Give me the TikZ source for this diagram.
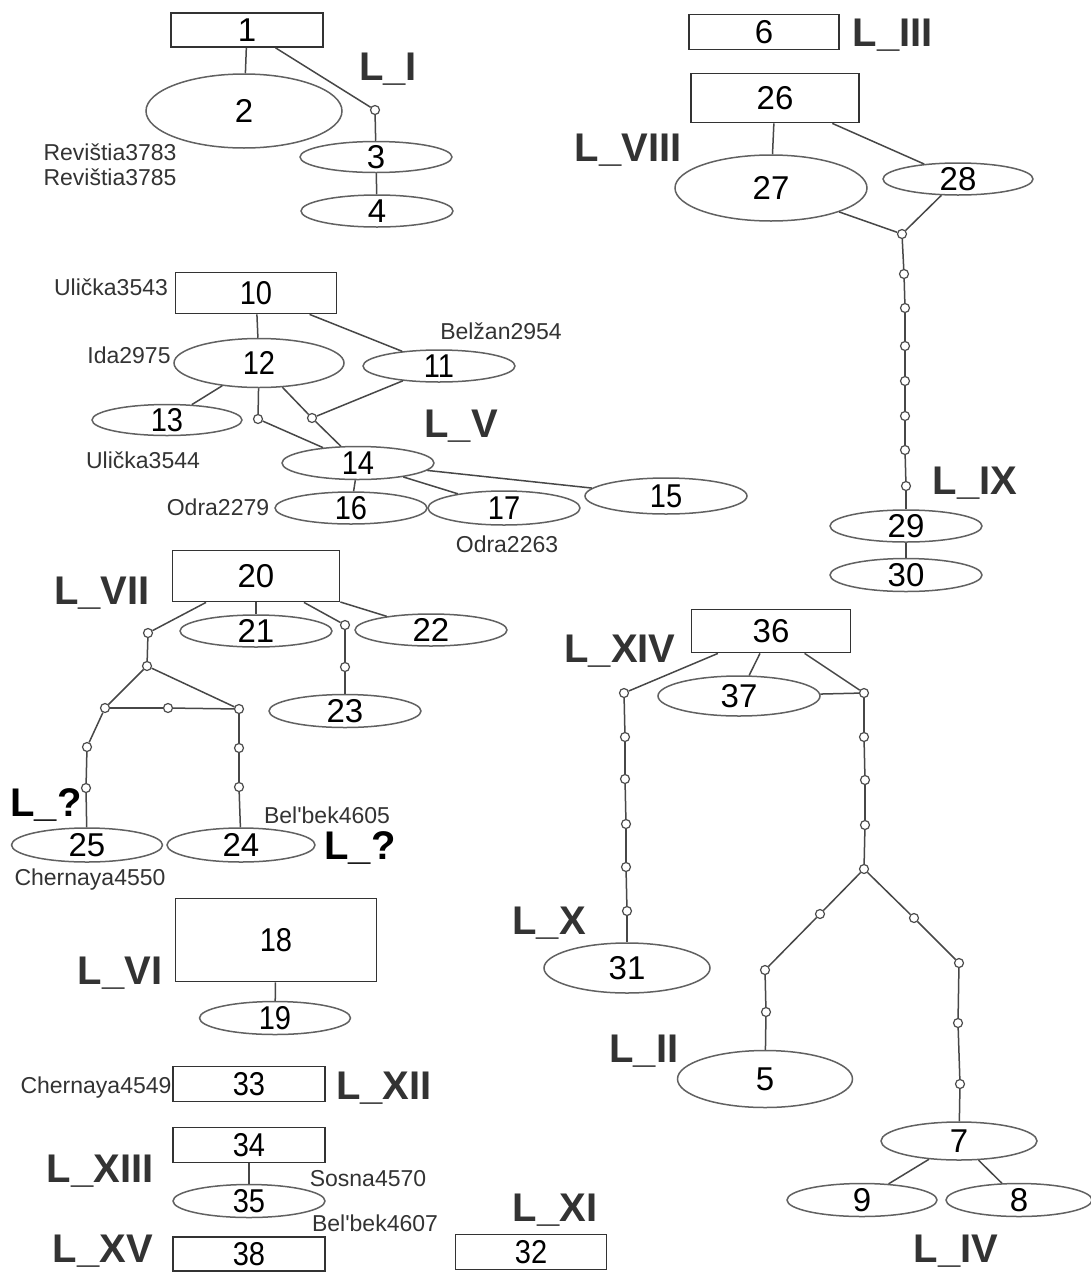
\documentclass[tikz,border=0pt]{standalone}
\usepackage{fontspec}
\setmainfont{Liberation Sans}
\usetikzlibrary{shapes.geometric}
\newcommand\nmb[1]{\smash{\raisebox{-0.358em}{#1}}}
\newcommand\nmbc[1]{\smash{\raisebox{-0.358em}{\scalebox{0.88}[1]{#1}}}}
\tikzset{
  bx/.style 2 args={draw=black!80, line width=1.8pt, rectangle, inner sep=0pt,
    minimum width=#1pt, minimum height=#2pt, font=\fontsize{33}{33}\selectfont},
  el/.style 2 args={draw=black!62, line width=1.5pt, ellipse, inner sep=0pt,
    minimum width=#1pt, minimum height=#2pt, font=\fontsize{33}{33}\selectfont},
  dt/.style={circle, draw=black!70, fill=white, line width=1.2pt, minimum size=9pt, inner sep=0pt},
  ln/.style={draw=black!72, line width=1.5pt},
  lb/.style={anchor=base, text=black!80, font=\fontsize{40}{40}\selectfont\bfseries, inner sep=0pt},
  lq/.style={lb, text=black},
  sm/.style={anchor=base, text=black!80, font=\fontsize{23}{23}\selectfont, inner sep=0pt},
}
\begin{document}
\begin{tikzpicture}[x=1pt,y=-1pt]
\fill[white] (0,0) rectangle (1091,1272);
\useasboundingbox (0,0) rectangle (1091,1272);

% ---------- L_I ----------
\node[bx={152}{34}] (n1) at (247,30) {\nmb{1}};
\node[el={196}{74}] (n2) at (244,111) {\nmb{2}};
\node[dt] (d1) at (375,110) {};
\node[el={152}{31}] (n3) at (376,157) {\nmb{3}};
\node[el={152}{32}] (n4) at (377,211) {\nmb{4}};
\node[lb] (lI) at (388,80) {L\_I};
\node[sm] (s1) at (110,160) {Revištia3783};
\node[sm] (s2) at (110,185) {Revištia3785};

% ---------- L_III ----------
\node[bx={150}{35}] (n6) at (764,32) {\nmb{6}};
\node[lb] (lIII) at (893,46) {L\_III};

% ---------- L_VIII / L_IX ----------
\node[bx={168}{49}] (n26) at (775,98) {\nmb{26}};
\node[el={192}{66}] (n27) at (771,188) {\nmb{27}};
\node[el={150}{32}] (n28) at (958,179) {\nmb{28}};
\node[dt] (j0) at (902,234) {};
\node[dt] (j1) at (904,274) {};
\node[dt] (j2) at (905,308) {};
\node[dt] (j3) at (905,346) {};
\node[dt] (j4) at (905,381) {};
\node[dt] (j5) at (905,416) {};
\node[dt] (j6) at (905,450) {};
\node[dt] (j7) at (906,486) {};
\node[el={152}{32}] (n29) at (906,526) {\nmb{29}};
\node[el={152}{33}] (n30) at (906,575) {\nmb{30}};
\node[lb] (lVIII) at (628,161) {L\_VIII};
\node[lb] (lIX) at (975,494) {L\_IX};

% ---------- L_V ----------
\node[bx={161}{41}] (n10) at (256,293) {\nmbc{10}};
\node[el={170}{49}] (n12) at (259,363) {\nmbc{12}};
\node[el={152}{32}] (n11) at (439,366) {\nmbc{11}};
\node[el={150}{31}] (n13) at (167,420) {\nmbc{13}};
\node[dt] (e1) at (258,419) {};
\node[dt] (e2) at (312,418) {};
\node[el={152}{33}] (n14) at (358,463) {\nmbc{14}};
\node[el={152}{32}] (n16) at (351,508) {\nmbc{16}};
\node[el={152}{34}] (n17) at (504,508) {\nmbc{17}};
\node[el={162}{36}] (n15) at (666,496) {\nmbc{15}};
\node[lb] (lV) at (461,437) {L\_V};
\node[sm] (s3) at (111,295) {Ulička3543};
\node[sm] (s4) at (129,363) {Ida2975};
\node[sm] (s5) at (501,339) {Belžan2954};
\node[sm] (s6) at (143,468) {Ulička3544};
\node[sm] (s7) at (218,515) {Odra2279};
\node[sm] (s8) at (507,552) {Odra2263};

% ---------- L_VII ----------
\node[bx={167}{51}] (n20) at (256,576) {\nmb{20}};
\node[el={152}{32}] (n21) at (256,631) {\nmb{21}};
\node[el={152}{32}] (n22) at (431,630) {\nmb{22}};
\node[el={152}{33}] (n23) at (345,711) {\nmb{23}};
\node[el={151}{34}] (n25) at (87,845) {\nmb{25}};
\node[el={148}{34}] (n24) at (241,845) {\nmb{24}};
\node[dt] (k1) at (148,633) {};
\node[dt] (k2) at (147,666) {};
\node[dt] (k3) at (105,708) {};
\node[dt] (k4) at (168,708) {};
\node[dt] (k5) at (239,709) {};
\node[dt] (k6) at (87,747) {};
\node[dt] (k7) at (86,788) {};
\node[dt] (k8) at (239,748) {};
\node[dt] (k9) at (239,787) {};
\node[dt] (m1) at (345,625) {};
\node[dt] (m2) at (345,667) {};
\node[lb] (lVII) at (102,604) {L\_VII};
\node[lq] (lq1) at (46,816) {L\_?};
\node[lq] (lq2) at (360,859) {L\_?};
\node[sm] (s9) at (327,823) {Bel\textquotesingle bek4605};
\node[sm] (s10) at (90,885) {Chernaya4550};

% ---------- L_VI, L_XII, L_XIII, L_XV, L_XI ----------
\node[bx={201}{83}] (n18) at (276,940) {\nmbc{18}};
\node[el={151}{33}] (n19) at (275,1018) {\nmbc{19}};
\node[lb] (lVI) at (120,984) {L\_VI};
\node[bx={152}{35}] (n33) at (249,1084) {\nmbc{33}};
\node[sm] (s11) at (96,1093) {Chernaya4549};
\node[lb] (lXII) at (384,1099) {L\_XII};
\node[bx={152}{35}] (n34) at (249,1145) {\nmbc{34}};
\node[el={152}{33}] (n35) at (249,1201) {\nmbc{35}};
\node[lb] (lXIII) at (100,1182) {L\_XIII};
\node[sm] (s12) at (368,1186) {Sosna4570};
\node[sm] (s13) at (375,1231) {Bel\textquotesingle bek4607};
\node[bx={152}{34}] (n38) at (249,1254) {\nmbc{38}};
\node[lb] (lXV) at (103,1262) {L\_XV};
\node[bx={151}{35}] (n32) at (531,1252) {\nmbc{32}};
\node[lb] (lXI) at (555,1221) {L\_XI};

% ---------- L_XIV, L_X, L_II, L_IV ----------
\node[bx={159}{43}] (n36) at (771,631) {\nmb{36}};
\node[el={162}{40}] (n37) at (739,696) {\nmb{37}};
\node[dt] (p1) at (624,693) {};
\node[dt] (p2) at (625,737) {};
\node[dt] (p3) at (625,779) {};
\node[dt] (p4) at (626,824) {};
\node[dt] (p5) at (626,867) {};
\node[dt] (p6) at (627,911) {};
\node[el={166}{50}] (n31) at (627,968) {\nmb{31}};
\node[dt] (q1) at (864,693) {};
\node[dt] (q2) at (864,737) {};
\node[dt] (q3) at (865,780) {};
\node[dt] (q4) at (865,825) {};
\node[dt] (q5) at (864,869) {};
\node[dt] (r1) at (820,914) {};
\node[dt] (r2) at (765,970) {};
\node[dt] (r3) at (766,1012) {};
\node[el={175}{57}] (n5) at (765,1079) {\nmb{5}};
\node[dt] (t1) at (914,918) {};
\node[dt] (t2) at (959,963) {};
\node[dt] (t3) at (958,1023) {};
\node[dt] (t4) at (960,1084) {};
\node[el={156}{38}] (n7) at (959,1141) {\nmb{7}};
\node[el={150}{33}] (n9) at (862,1200) {\nmb{9}};
\node[el={146}{33}] (n8) at (1019,1200) {\nmb{8}};
\node[lb] (lXIV) at (620,662) {L\_XIV};
\node[lb] (lX) at (549,934) {L\_X};
\node[lb] (lII) at (644,1062) {L\_II};
\node[lb] (lIV) at (956,1262) {L\_IV};

% ---------- connectors ----------
\foreach \a/\b in {n1/n2, n1/d1, d1/n3, n3/n4,
  n26/n27, n26/n28, n27/j0, n28/j0, j0/j1, j1/j2, j2/j3, j3/j4, j4/j5, j5/j6, j6/j7, j7/n29, n29/n30,
  n10/n12, n10/n11, n12/n13, n12/e1, e1/n14, n12/e2, e2/n14, n11/e2, n14/n16, n14/n17, n14/n15,
  n20/n21, n20/n22, n20/m1, m1/m2, m2/n23, n20/k1, k1/k2, k2/k3, k2/k5, k3/k4, k4/k5,
  k3/k6, k6/k7, k7/n25, k5/k8, k8/k9, k9/n24,
  n18/n19, n34/n35,
  n36/n37, n36/p1, n36/q1, n37/q1, p1/p2, p2/p3, p3/p4, p4/p5, p5/p6, p6/n31,
  q1/q2, q2/q3, q3/q4, q4/q5, q5/r1, r1/r2, r2/r3, r3/n5, q5/t1, t1/t2, t2/t3, t3/t4, t4/n7,
  n7/n9, n7/n8}
  \draw[ln] (\a) -- (\b);
\end{tikzpicture}
\end{document}
